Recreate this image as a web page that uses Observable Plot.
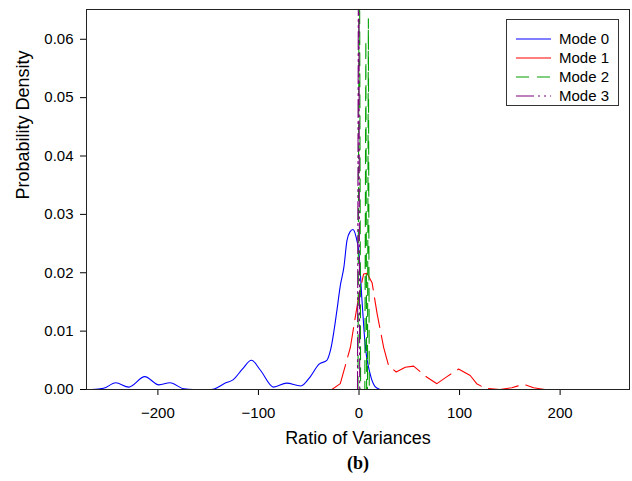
<!DOCTYPE html>
<html>
<head>
<meta charset="utf-8">
<script src="https://cdn.jsdelivr.net/npm/d3@7"></script>
<script src="https://cdn.jsdelivr.net/npm/@observablehq/plot@0.6"></script>
<style>
  body { margin: 0; background: #fff; }
  #wrap { position: relative; width: 632px; height: 481px; font-family: "Liberation Sans", Arial, sans-serif; }
  #legend { position: absolute; left: 506px; top: 19px; width: 113px; height: 87px; box-sizing: border-box; border: 1px solid #333; background: #fff; }
</style>
</head>
<body>
<div id="wrap"></div>
<script>
// ---- data ----
const seriesNames = ["Mode 0", "Mode 1", "Mode 2", "Mode 3"];
const seriesColors = ["#0000ff", "#ff0000", "#00a000", "#800080"];
const seriesDash = [null, "30,8", "13,8", "18,4,2,4,2,4"];

const mode0X = [-266,-254,-242,-229,-213,-199,-188,-174,-165,-150,-144,-133,-125,-116,-107,-98,-85,-72,-58,-48,-40,-32,-28,-22,-18.6,-15,-12,-9,-6,-3,0,3,6,11,16,21];
const mode0Y = [0,0.0002,0.00115,0.0004,0.0022,0.0008,0.00115,0.0001,0,0,0.0001,0.0011,0.0017,0.0035,0.005,0.0033,0.0004,0.0011,0.0006,0.0023,0.0043,0.005,0.007,0.0135,0.0178,0.021,0.0255,0.027,0.0274,0.0262,0.0233,0.0152,0.0079,0.0027,0.0005,0];

const mode1X = [-27,-18.6,-8.6,-3.7,-0.4,4.6,8,13,18,24.5,29.4,37,46,54.3,67.6,77.5,87.5,99,110.6,117,125.5,140,152,163.6,173.6,185,270];
const mode1Y = [0,0.001,0.0072,0.0124,0.0158,0.0198,0.0199,0.0183,0.013,0.0072,0.0041,0.003,0.0038,0.004,0.0021,0.001,0.0022,0.0035,0.0024,0.001,0.0002,0,0.0003,0.0009,0.0003,0,0];

const mode2X = [-1, 0.3, 1.6, 5.8, 6.8, 7.6, 8.4, 9.3, 10.2];
const mode2Y = [0, 0.09, 0, 0, 0.0598, 0, 0, 0.0635, 0];

const mode3X = [-1.5, -0.4, 0.7];
const mode3Y = [0, 0.09, 0];

const xTicks = [-200, -100, 0, 100, 200];
const yTicks = [0, 0.01, 0.02, 0.03, 0.04, 0.05, 0.06];
const xLabel = "Ratio of Variances";
const yLabel = "Probability Density";
const caption = "(b)";

// ---- build table ----
const allX = [mode0X, mode1X, mode2X, mode3X];
const allY = [mode0Y, mode1Y, mode2Y, mode3Y];
const rows = [];
allX.forEach((xs, s) => xs.forEach((x, i) => rows.push({series: seriesNames[s], x, y: allY[s][i]})));

const font = '"Liberation Sans", Arial, sans-serif';

const lineMarks = seriesNames.map((name, s) => Plot.line(rows.filter(d => d.series === name), {
  x: "x", y: "y",
  stroke: seriesColors[s],
  strokeWidth: 1.1,
  strokeDasharray: seriesDash[s] || undefined,
  curve: s === 0 ? "monotone-x" : "linear",
  clip: true
}));

const chart = Plot.plot({
  width: 632,
  height: 481,
  marginLeft: 86,
  marginRight: 3,
  marginTop: 9,
  marginBottom: 92,
  style: {fontFamily: font, fontSize: "15px", color: "#000", background: "#fff"},
  x: {domain: [-271, 269], ticks: xTicks, tickSize: 6, tickPadding: 12, label: null},
  y: {domain: [0, 0.0651], ticks: yTicks, tickSize: 6, tickPadding: 7, tickFormat: d3.format(".2f"), label: null},
  marks: [
    ...lineMarks,
    Plot.frame({stroke: "#222", strokeWidth: 1}),
    Plot.text([xLabel], {frameAnchor: "bottom", dy: 49, lineAnchor: "middle", fontSize: 18, fill: "#000"}),
    Plot.text([caption], {frameAnchor: "bottom", dy: 74, lineAnchor: "middle", fontSize: 18, fontWeight: "bold", fontFamily: '"Liberation Serif", "Times New Roman", serif', fill: "#000"}),
    Plot.text([yLabel], {frameAnchor: "left", dx: -63, rotate: -90, lineAnchor: "middle", fontSize: 18, fill: "#000"})
  ]
});

const wrap = document.getElementById("wrap");
wrap.appendChild(chart);

// ---- legend ----
const legend = document.createElement("div");
legend.id = "legend";
const ns = "http://www.w3.org/2000/svg";
const lsvg = document.createElementNS(ns, "svg");
lsvg.setAttribute("width", 111);
lsvg.setAttribute("height", 85);
seriesNames.forEach((name, i) => {
  const yy = 19 + i * 19;
  const ln = document.createElementNS(ns, "line");
  ln.setAttribute("x1", 9); ln.setAttribute("x2", 44);
  ln.setAttribute("y1", yy); ln.setAttribute("y2", yy);
  ln.setAttribute("stroke", seriesColors[i]);
  ln.setAttribute("stroke-width", 1.2);
  if (seriesDash[i]) ln.setAttribute("stroke-dasharray", i === 1 ? "none" : seriesDash[i]);
  lsvg.appendChild(ln);
  const tx = document.createElementNS(ns, "text");
  tx.setAttribute("x", 52); tx.setAttribute("y", yy);
  tx.setAttribute("dy", "0.35em");
  tx.setAttribute("font-family", font);
  tx.setAttribute("font-size", 15);
  tx.textContent = name;
  lsvg.appendChild(tx);
});
legend.appendChild(lsvg);
wrap.appendChild(legend);
</script>
</body>
</html>
